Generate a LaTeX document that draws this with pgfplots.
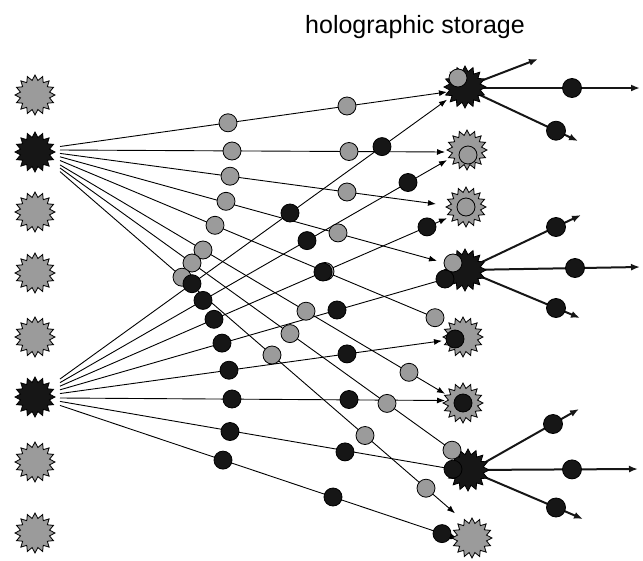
\documentclass[border=0pt]{standalone}
\usepackage{pgfplots}
\pgfplotsset{compat=1.18}
\usepackage{fontspec}
\setmainfont{Liberation Sans}
\usetikzlibrary{arrows.meta}
\definecolor{sgray}{RGB}{155,155,155}
\definecolor{sblack}{RGB}{22,22,22}
\newcount\burstcnt
\pgfdeclareplotmark{burst}{%
  \pgfpathmoveto{\pgfpointpolar{90}{\pgfplotmarksize}}%
  \burstcnt=0
  \loop
    \advance\burstcnt by 1
    \pgfmathsetmacro\burstang{90+\the\burstcnt*11.25}%
    \ifodd\burstcnt
      \pgfpathlineto{\pgfpointpolar{\burstang}{0.74\pgfplotmarksize}}%
    \else
      \pgfpathlineto{\pgfpointpolar{\burstang}{\pgfplotmarksize}}%
    \fi
  \ifnum\burstcnt<31
  \repeat
  \pgfpathclose
  \pgfusepathqfillstroke
}
\begin{document}
\begin{tikzpicture}
\begin{axis}[
  width=643pt, height=560pt, scale only axis,
  xmin=0, xmax=643, ymin=0, ymax=560, y dir=reverse,
  hide axis, clip=false,
  thinline/.style={black, line width=0.9pt, mark=none},
  thinarrow/.style={black, line width=0.9pt, mark=none, -{Latex[length=8pt,width=6pt]}},
  thickarrow/.style={sblack, line width=2pt, mark=none, -{Latex[length=9pt,width=7pt]}},
]
\addplot[draw=none, mark=none] coordinates {(0,0) (643,560)};

% lines from upper source (gray)
\addplot[thinarrow] coordinates {(60,146.5) (447,92)};
\addplot[thinarrow] coordinates {(60,150) (445,152)};
\addplot[thinarrow] coordinates {(60,153.4) (436,204)};
\addplot[thinarrow] coordinates {(60,156.8) (437,260.8)};
\addplot[thinline] coordinates {(60,160.5) (435,317.7)};
\addplot[thinarrow] coordinates {(60,164.9) (445,393.8)};
\addplot[thinline] coordinates {(60,168) (452,450.2)};
\addplot[thinarrow] coordinates {(60,171.6) (455,513.3)};

% lines from lower source (black)
\addplot[thinarrow] coordinates {(60,379) (447,99.7)};
\addplot[thinarrow] coordinates {(60,382.6) (447,160.1)};
\addplot[thinarrow] coordinates {(60,386.15) (447,218.2)};
\addplot[thinline] coordinates {(60,389.8) (445,279)};
\addplot[thinarrow] coordinates {(60,393.55) (442,340.8)};
\addplot[thinarrow] coordinates {(60,398) (445,400.5)};
\addplot[thinline] coordinates {(60,401.4) (453,469.2)};
\addplot[thinarrow] coordinates {(60,405.4) (458,539)};

% left stars
\addplot[only marks, mark=burst, mark size=20pt, mark options={fill=sgray, draw=black, line width=0.8pt}]
  coordinates {(35,95) (35,212) (35,273) (35,337) (35,462) (35,533)};
\addplot[only marks, mark=burst, mark size=20pt, mark options={fill=sblack, draw=black, line width=0.8pt}]
  coordinates {(35,152) (35,397)};

% right stars
\addplot[only marks, mark=burst, mark size=20pt, mark options={fill=sgray, draw=black, line width=0.8pt}]
  coordinates {(467,150) (466,207) (463,337) (463,403) (472,538)};
\addplot[only marks, mark=burst, mark size=21pt, mark options={fill=sblack, draw=black, line width=0.8pt}]
  coordinates {(465,87) (465,270) (468,470)};

% outgoing arrows
\addplot[thickarrow] coordinates {(465,87) (538,59)};
\addplot[thickarrow] coordinates {(465,88) (640,88)};
\addplot[thickarrow] coordinates {(465,88) (578,141)};
\addplot[thickarrow] coordinates {(465,270) (581,215)};
\addplot[thickarrow] coordinates {(465,270) (640,267)};
\addplot[thickarrow] coordinates {(465,270) (580,318)};
\addplot[thickarrow] coordinates {(468,472) (579,409)};
\addplot[thickarrow] coordinates {(468,470) (638,469)};
\addplot[thickarrow] coordinates {(468,470) (583,519)};

% gray circles
\addplot[only marks, mark=*, mark size=9pt, mark options={fill=sgray, draw=black, line width=0.8pt}]
  coordinates {
  (228,122.8) (347,106) (458,78)
  (232,151) (349,151.5) (468,155)
  (230,176.2) (347,192) (466,207)
  (226,201.3) (338,232.9) (453,263)
  (215,225.3) (325,271.5) (435,317.7)
  (203,250) (306,311.2) (409,372.3)
  (192,263) (290,333.6) (387,403.4) (452,450.2)
  (182,277.2) (272,355) (365,435.5) (426,488.2)
  };

% black circles
\addplot[only marks, mark=*, mark size=9pt, mark options={fill=sblack, draw=black, line width=0.8pt}]
  coordinates {
  (192,283.7) (290,213) (382,146.6)
  (203,300.4) (307,240.6) (408,182.5)
  (214,319.3) (323,272) (427,226.9)
  (222,343.1) (337,310) (445,279)
  (229,370.2) (347,353.9) (455,339)
  (232,399) (349,399.5) (463,403)
  (230,431.5) (345,451.9) (453,469.2)
  (223,460.1) (333,497) (442,533.6)
  };

% dots on outgoing arrows
\addplot[only marks, mark=*, mark size=9.5pt, mark options={fill=sblack, draw=black, line width=0.8pt}]
  coordinates {(572,88) (556,130.7) (556,227) (575,268) (556,308) (553,424) (572,469.4) (556,507.5)};

\node[anchor=base, font=\fontsize{25}{30}\selectfont] at (axis cs:415,33) {holographic storage};
\end{axis}
\end{tikzpicture}
\end{document}
